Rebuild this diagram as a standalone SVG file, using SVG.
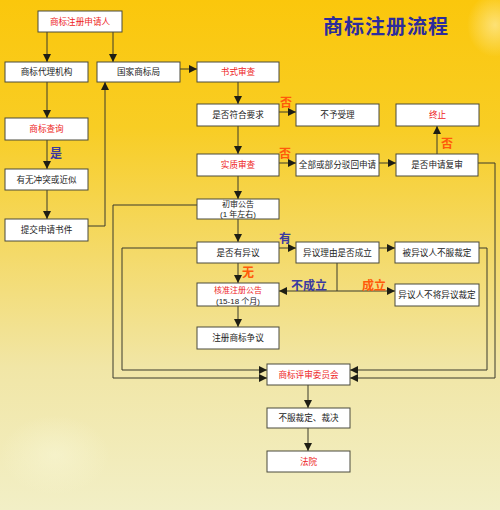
<svg xmlns="http://www.w3.org/2000/svg" width="500" height="510" viewBox="0 0 500 510">
<defs>
<linearGradient id="bg" x1="0" y1="0" x2="0" y2="1">
<stop offset="0" stop-color="#fbc70c"/>
<stop offset="0.25" stop-color="#f8cd24"/>
<stop offset="0.5" stop-color="#f4da6a"/>
<stop offset="0.72" stop-color="#f1e6a6"/>
<stop offset="1" stop-color="#f2efc6"/>
</linearGradient>
<radialGradient id="glow1" cx="0.5" cy="0.5" r="0.5">
<stop offset="0" stop-color="#f8f6d4" stop-opacity="0.6"/>
<stop offset="1" stop-color="#f8f6d4" stop-opacity="0"/>
</radialGradient>
<radialGradient id="glow2" cx="0.5" cy="0.5" r="0.5">
<stop offset="0" stop-color="#fff2b8" stop-opacity="0.6"/>
<stop offset="1" stop-color="#fff2b8" stop-opacity="0"/>
</radialGradient>
<marker id="arr" markerUnits="userSpaceOnUse" markerWidth="9" markerHeight="9" refX="8" refY="4" orient="auto">
<path d="M0,0 L8,4 L0,8 z" fill="#1e1e14"/>
</marker>
<style>
.box rect{fill:#ffffff;stroke:#4a4a3c;stroke-width:1}
.box text{font-family:"Liberation Sans","Noto Sans CJK SC",sans-serif;font-size:8.6px;fill:#222222;text-anchor:middle}
.box text.red{fill:#ee1c24}
.box text.sm{font-size:8px}
#connectors path{fill:none;stroke:#3a3a2c;stroke-width:1}
.arrow{marker-end:url(#arr)}
.lbl{font-family:"Noto Sans CJK SC",sans-serif;font-size:12px;font-weight:bold;text-anchor:middle}
.yes{fill:#3a3aa0}
.no{fill:#ff5a0a}
</style>
</defs>
<rect x="0" y="0" width="500" height="510" fill="url(#bg)"/>
<ellipse cx="55" cy="455" rx="55" ry="40" fill="url(#glow1)"/>
<ellipse cx="495" cy="25" rx="28" ry="32" fill="url(#glow2)"/>
<text x="386" y="34" font-family="Noto Sans CJK SC, sans-serif" font-size="20" font-weight="bold" fill="#2c2c9c" text-anchor="middle" letter-spacing="1">商标注册流程</text>

<g id="connectors">
<path class="arrow" d="M47,32 V62"/>
<path class="arrow" d="M113,32 V62"/>
<path class="arrow" d="M47,82 V118"/>
<path class="arrow" d="M47,140 V169"/>
<path class="arrow" d="M47,190 V219"/>
<path class="arrow" d="M88,226 H105 V82"/>
<path class="arrow" d="M180,69 H197"/>
<path class="arrow" d="M238,82 V104"/>
<path class="arrow" d="M279,112 H296"/>
<path class="arrow" d="M238,126 V154"/>
<path class="arrow" d="M279,163 H296"/>
<path class="arrow" d="M379,163 H396"/>
<path class="arrow" d="M437,154 V126"/>
<path class="arrow" d="M478,163 H495 V378 H350"/>
<path class="arrow" d="M238,176 V199"/>
<path class="arrow" d="M197,205 H113 V378 H267"/>
<path class="arrow" d="M238,219 V242"/>
<path class="arrow" d="M279,248 H296"/>
<path class="arrow" d="M379,248 H395"/>
<path class="arrow" d="M479,248 H487 V370 H350"/>
<path class="arrow" d="M197,248 H122 V370 H267"/>
<path class="arrow" d="M238,263 V283"/>
<path d="M337,263 V291"/>
<path class="arrow" d="M337,291 H279"/>
<path class="arrow" d="M337,291 H395"/>
<path class="arrow" d="M238,306 V327"/>
<path class="arrow" d="M308,385 V408"/>
<path class="arrow" d="M308,428 V451"/>
</g>

<g id="labels">
<text class="lbl yes" x="56" y="158">是</text>
<text class="lbl no" x="286" y="107">否</text>
<text class="lbl no" x="285" y="158">否</text>
<text class="lbl no" x="447" y="148">否</text>
<text class="lbl yes" x="285" y="243">有</text>
<text class="lbl no" x="248" y="277">无</text>
<text class="lbl yes" x="309" y="290" font-size="13">不成立</text>
<text class="lbl no" x="374" y="290" font-size="13">成立</text>
</g>

<g id="applicant" class="box"><rect x="38" y="11" width="84" height="21"/><text class="red" x="80" y="24.5">商标注册申请人</text></g>
<g id="agent" class="box"><rect x="5" y="62" width="83" height="20"/><text x="46.5" y="75">商标代理机构</text></g>
<g id="bureau" class="box"><rect x="97" y="62" width="83" height="20"/><text x="138.5" y="75">国家商标局</text></g>
<g id="formal" class="box"><rect x="197" y="62" width="82" height="20"/><text class="red" x="238" y="75">书式审查</text></g>
<g id="search" class="box"><rect x="5" y="118" width="83" height="22"/><text class="red" x="46.5" y="132">商标查询</text></g>
<g id="conflict" class="box"><rect x="5" y="169" width="83" height="21"/><text x="46.5" y="182.5">有无冲突或近似</text></g>
<g id="submit" class="box"><rect x="5" y="219" width="83" height="22"/><text x="46.5" y="233">提交申请书件</text></g>
<g id="comply" class="box"><rect x="197" y="104" width="82" height="22"/><text x="238" y="118">是否符合要求</text></g>
<g id="reject" class="box"><rect x="296" y="104" width="83" height="22"/><text x="337.5" y="118">不予受理</text></g>
<g id="end" class="box"><rect x="396" y="104" width="83" height="22"/><text class="red" x="437.5" y="118">终止</text></g>
<g id="substantive" class="box"><rect x="197" y="154" width="82" height="22"/><text class="red" x="238" y="168">实质审查</text></g>
<g id="refuse" class="box"><rect x="296" y="154" width="83" height="22"/><text x="337.5" y="168">全部或部分驳回申请</text></g>
<g id="reviewq" class="box"><rect x="396" y="154" width="82" height="22"/><text x="437" y="168">是否申请复审</text></g>
<g id="prelim" class="box"><rect x="197" y="199" width="82" height="20"/><text class="sm" x="238" y="206.5">初审公告</text><text class="sm" x="238" y="216.5">(1 年左右)</text></g>
<g id="objection" class="box"><rect x="197" y="242" width="82" height="21"/><text x="238" y="255.5">是否有异议</text></g>
<g id="reason" class="box"><rect x="296" y="242" width="83" height="21"/><text x="337.5" y="255.5">异议理由是否成立</text></g>
<g id="objectee" class="box"><rect x="395" y="242" width="84" height="21"/><text x="437" y="255.5">被异议人不服裁定</text></g>
<g id="approve" class="box"><rect x="197" y="283" width="82" height="23"/><text class="red sm" x="238" y="293">核准注册公告</text><text class="sm" x="238" y="303.5">(15-18 个月)</text></g>
<g id="objector" class="box"><rect x="395" y="284" width="84" height="22"/><text x="437" y="298">异议人不将异议裁定</text></g>
<g id="dispute" class="box"><rect x="197" y="327" width="82" height="22"/><text x="238" y="341">注册商标争议</text></g>
<g id="board" class="box"><rect x="267" y="364" width="83" height="21"/><text class="red" x="308.5" y="377.5">商标评审委员会</text></g>
<g id="appeal" class="box"><rect x="267" y="408" width="83" height="20"/><text x="308.5" y="421">不服裁定、裁决</text></g>
<g id="court" class="box"><rect x="267" y="451" width="83" height="21"/><text class="red" x="308.5" y="464.5">法院</text></g>
</svg>
